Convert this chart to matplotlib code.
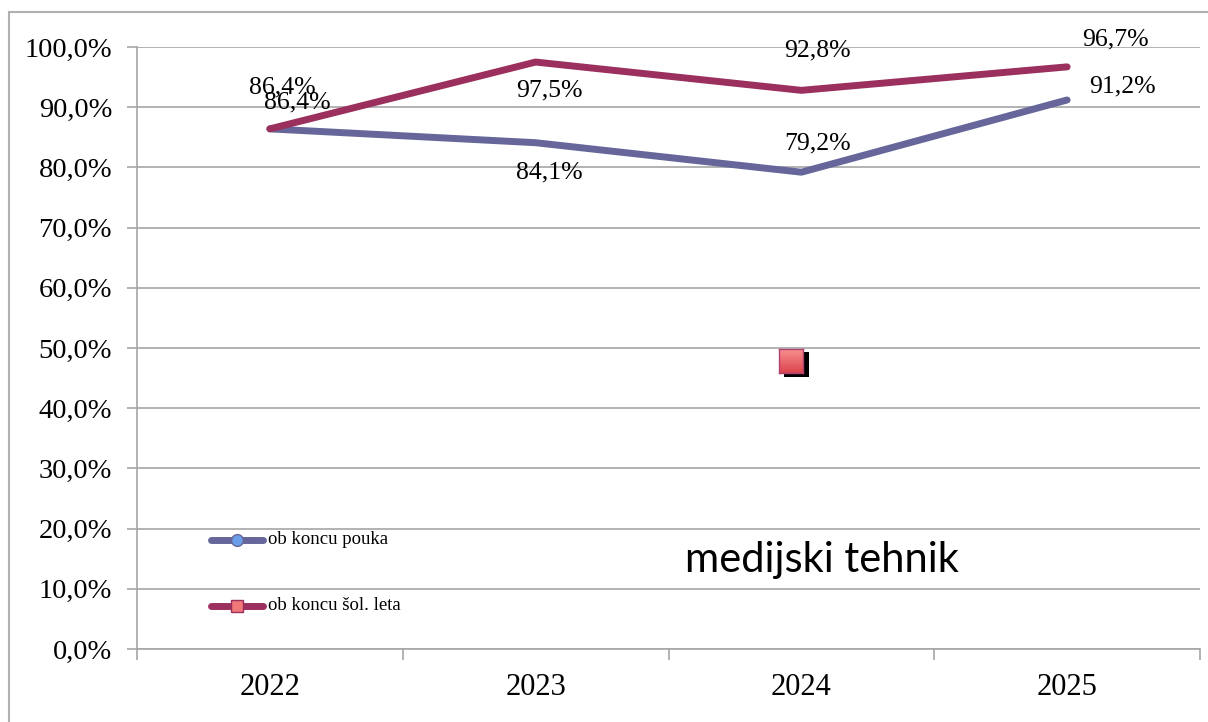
import matplotlib
matplotlib.use("Agg")
import matplotlib.pyplot as plt
import numpy as np
from matplotlib.patches import Rectangle
from matplotlib.lines import Line2D

years = ["2022", "2023", "2024", "2025"]
pouka = [86.4, 84.1, 79.2, 91.2]
leta = [86.4, 97.5, 92.8, 96.7]
yticks = [0, 10, 20, 30, 40, 50, 60, 70, 80, 90, 100]
series_names = ["ob koncu pouka", "ob koncu šol. leta"]
title = "medijski tehnik"

W, H = 1208, 722
fig = plt.figure(figsize=(W / 100, H / 100), dpi=100)
serif = ["Liberation Serif", "DejaVu Serif"]

# outer chart frame
fig.patches.append(Rectangle((9 / W, -0.1), 1.2, 1 - 12 / H + 0.1, transform=fig.transFigure,
                             fill=False, edgecolor="#B0B0B0", linewidth=1.5))

ax = fig.add_axes([137 / W, 1 - 649 / H, (1200 - 137) / W, (649 - 47) / H])
ax.set_xlim(-0.5, 3.5)
ax.set_ylim(0, 100)
x = list(range(len(years)))

ax.set_yticks(yticks)
ax.set_yticklabels([f"{v:.1f}%".replace(".", ",") for v in yticks], fontfamily=serif, fontsize=20.5)
ax.set_xticks(x)
ax.set_xticklabels(years, fontfamily=serif, fontsize=22)
ax.tick_params(axis="x", length=0, pad=17)
ax.tick_params(axis="y", length=7, color="#A6A6A6", pad=11, width=1.2)
ax.set_xticks([-0.5, 0.5, 1.5, 2.5, 3.5], minor=True)
ax.tick_params(axis="x", which="minor", length=8, color="#A6A6A6", width=1.2)
ax.grid(axis="y", color="#A6A6A6", linewidth=1.2)
ax.set_axisbelow(True)
for s in ["top", "right"]:
    ax.spines[s].set_visible(False)
for s in ["left", "bottom"]:
    ax.spines[s].set_color("#A6A6A6")
    ax.spines[s].set_linewidth(1.2)

c1, c2 = "#66669A", "#9B305F"
ax.plot(x, pouka, color=c1, linewidth=5, solid_capstyle="round", zorder=3)
ax.plot(x, leta, color=c2, linewidth=5, solid_capstyle="round", zorder=4)

off1 = [(27, 26), (14, -30), (16, 29), (55, 14)]
off2 = [(12, 41), (14, -28), (16, 40), (48, 27)]
for xi, v, o in zip(x, pouka, off1):
    ax.annotate(f"{v:.1f}%".replace(".", ","), (xi, v), xytext=o, textcoords="offset pixels",
                ha="center", va="center", fontfamily=serif, fontsize=18.5, zorder=6)
for xi, v, o in zip(x, leta, off2):
    ax.annotate(f"{v:.1f}%".replace(".", ","), (xi, v), xytext=o, textcoords="offset pixels",
                ha="center", va="center", fontfamily=serif, fontsize=18.5, zorder=6)

# legend drawn manually inside the plot area
for yp, col, mk, mfc, name in [(540, c1, "o", "#6A9EE8", series_names[0]),
                              (606, c2, "s", "#F07878", series_names[1])]:
    fig.add_artist(Line2D([211 / W, 263 / W], [1 - yp / H] * 2, color=col, linewidth=5,
                          solid_capstyle="round", transform=fig.transFigure))
    fig.add_artist(Line2D([237 / W], [1 - yp / H], marker=mk, markersize=8.5, markerfacecolor=mfc,
                          markeredgecolor=col, markeredgewidth=1, transform=fig.transFigure))
    fig.text(268 / W, 1 - yp / H, name, fontfamily=serif, fontsize=13.5, va="center", ha="left")

# stray marker with shadow
fig.patches.append(Rectangle((784 / W, 1 - 377 / H), 25 / W, 25 / H, transform=fig.transFigure,
                             facecolor="black", edgecolor="none", zorder=10))
iax = fig.add_axes([779 / W, 1 - 373 / H, 24 / W, 24 / H], zorder=12)
grad = np.linspace(0, 1, 32).reshape(-1, 1)
top = np.array([0.97, 0.56, 0.56])
bot = np.array([0.86, 0.27, 0.30])
img = top[None, None, :] * (1 - grad[:, :, None]) + bot[None, None, :] * grad[:, :, None]
iax.imshow(img, aspect="auto", extent=(0, 1, 1, 0))
iax.set_xticks([])
iax.set_yticks([])
for s in iax.spines.values():
    s.set_color("#B04070")
    s.set_linewidth(1)

fig.text(822 / W, 1 - 560 / H, title, fontfamily=["Lato", "DejaVu Sans"], fontsize=30,
         ha="center", va="center")

fig.savefig("out.png", dpi=100)
